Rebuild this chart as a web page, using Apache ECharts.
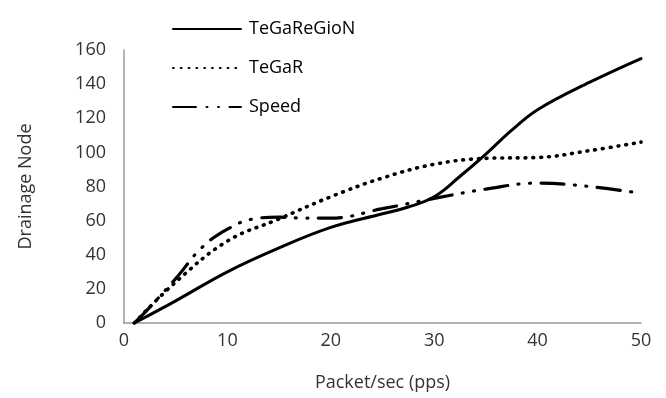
<!DOCTYPE html>
<html>
<head>
<meta charset="utf-8">
<script src="https://cdn.jsdelivr.net/npm/echarts@6/dist/echarts.min.js"></script>
<style>
html,body{margin:0;padding:0;background:#fff;}
#chart{width:666px;height:398px;}
</style>
</head>
<body>
<div id="chart"></div>
<script>
var seriesNames = ['TeGaReGioN', 'TeGaR', 'Speed'];
var xTeGaReGioN = [1, 5, 10, 15, 20, 25, 27.5, 30, 32.5, 35, 37.5, 40, 45, 50];
var yTeGaReGioN = [0, 13, 30, 44, 56, 64, 68, 74, 86, 99, 113, 125, 141, 155];
var xTeGaR = [1, 5, 10, 15, 20, 25, 30, 35, 40, 45, 50];
var yTeGaR = [0, 24, 48, 61, 74, 85, 93, 96.5, 97, 101, 106];
var xSpeed = [1, 2.3, 5, 7.5, 10, 12.5, 15, 17.5, 20, 25, 30, 35, 40, 45, 50];
var ySpeed = [0, 8, 26, 44, 55, 61, 62, 61.5, 61.5, 67, 73, 78.5, 82, 80, 76];
var xTicks = [0, 10, 20, 30, 40, 50];
var yTicks = [0, 20, 40, 60, 80, 100, 120, 140, 160];

function pairs(xs, ys) { return xs.map(function (x, i) { return [x, ys[i]]; }); }

var font = 'Open Sans';
var chart = echarts.init(document.getElementById('chart'), null, {renderer: 'canvas'});
chart.setOption({
  animation: false,
  backgroundColor: '#fff',
  grid: {left: 124, right: 25, top: 50, bottom: 75, containLabel: false},
  legend: {
    orient: 'vertical',
    left: 167,
    top: 15,
    itemWidth: 68,
    itemHeight: 14,
    itemGap: 21,
    data: seriesNames,
    itemStyle: {color: 'rgba(0,0,0,0)', borderWidth: 0, opacity: 0},
    textStyle: {fontFamily: font, fontSize: 18, color: '#000', padding: [0, 0, 0, 3], lineHeight: 18}
  },
  xAxis: {
    type: 'value',
    min: xTicks[0],
    max: xTicks[xTicks.length - 1],
    interval: 10,
    name: 'Packet/sec (pps)',
    nameLocation: 'middle',
    nameGap: 51,
    nameTextStyle: {fontFamily: font, fontSize: 18, color: '#333'},
    axisLine: {show: true, lineStyle: {color: '#999', width: 1.5}},
    axisTick: {show: false},
    splitLine: {show: false},
    axisLabel: {fontFamily: font, fontSize: 18, color: '#333', margin: 9}
  },
  yAxis: {
    type: 'value',
    min: yTicks[0],
    max: yTicks[yTicks.length - 1],
    interval: 20,
    name: 'Drainage Node',
    nameLocation: 'middle',
    nameGap: 89,
    nameTextStyle: {fontFamily: font, fontSize: 18, color: '#333'},
    axisLine: {show: true, lineStyle: {color: '#999', width: 1.5}},
    axisTick: {show: false},
    splitLine: {show: false},
    axisLabel: {fontFamily: font, fontSize: 18, color: '#333', margin: 18}
  },
  series: [
    {
      name: seriesNames[0], type: 'line', smooth: 0.4, symbol: 'none',
      data: pairs(xTeGaReGioN, yTeGaReGioN),
      itemStyle: {color: '#000'},
      lineStyle: {color: '#000', width: 3, cap: 'round'}
    },
    {
      name: seriesNames[1], type: 'line', smooth: 0.4, symbol: 'none',
      data: pairs(xTeGaR, yTeGaR),
      itemStyle: {color: '#000'},
      lineStyle: {color: '#000', width: 3.6, type: [0.8, 7], cap: 'round'}
    },
    {
      name: seriesNames[2], type: 'line', smooth: 0.4, symbol: 'none',
      data: pairs(xSpeed, ySpeed),
      itemStyle: {color: '#000'},
      lineStyle: {color: '#000', width: 3.2, type: [23, 10.5, 1, 10.5, 1, 10.5], cap: 'round'}
    }
  ]
});
</script>
</body>
</html>
